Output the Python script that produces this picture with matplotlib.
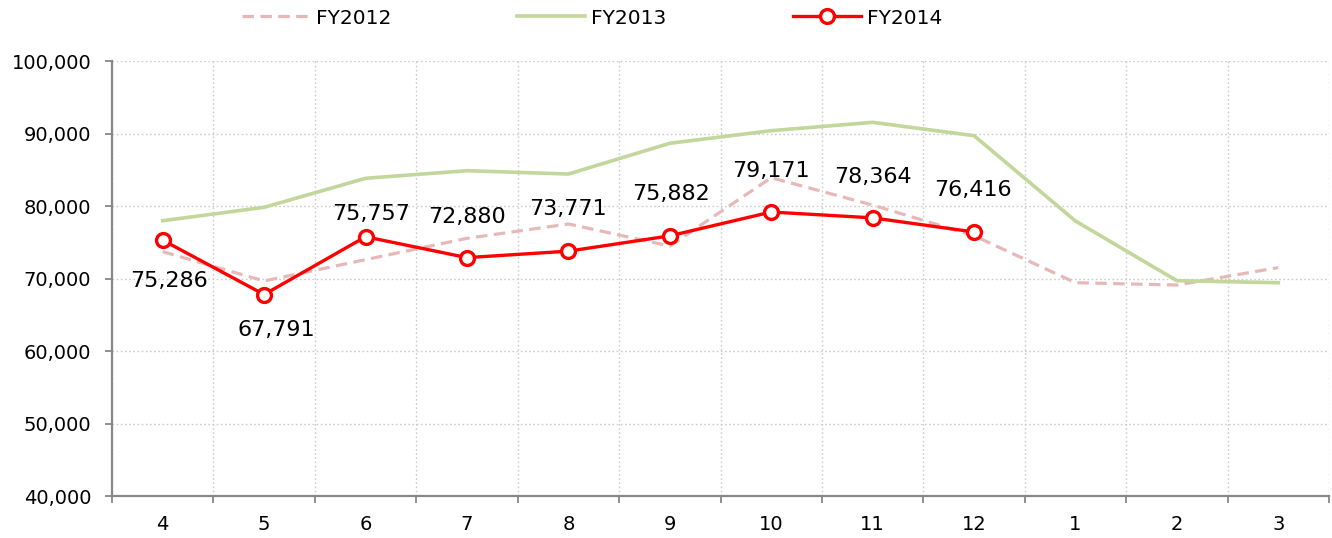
import matplotlib
matplotlib.use("Agg")
import matplotlib.pyplot as plt
from matplotlib.ticker import FuncFormatter, FixedLocator

months = ["4", "5", "6", "7", "8", "9", "10", "11", "12", "1", "2", "3"]
fy2012 = [73700, 69660, 72600, 75540, 77520, 74480, 83900, 80130, 75900, 69420, 69100, 71500]
fy2013 = [77970, 79820, 83820, 84870, 84410, 88650, 90390, 91540, 89700, 77930, 69700, 69420]
fy2014 = [75286, 67791, 75757, 72880, 73771, 75882, 79171, 78364, 76416]
# data-label offsets (points) relative to each FY2014 marker
label_offsets = [(4.7, -29.5), (8.6, -25.2), (4.3, 16.6), (0, 29), (0, 30),
                 (0.7, 30), (0, 29.5), (0, 29.5), (-1, 30)]

plt.rcParams['font.family'] = ['DejaVu Sans']

fig = plt.figure(figsize=(13.32, 5.38), dpi=100)
ax = fig.add_axes([112/1332, 1-496/538, (1329-112)/1332, (496-61)/538])

x = list(range(len(months)))
l12, = ax.plot(x, fy2012, color='#E6B9B8', lw=2.3, dashes=(3.6, 2.0),
               solid_capstyle='butt', label='FY2012', zorder=2)
l13, = ax.plot(x, fy2013, color='#C3D69B', lw=2.6, label='FY2013', zorder=3)
l14, = ax.plot(x[:len(fy2014)], fy2014, color='#FF0000', lw=2.4, marker='o',
               markersize=10, markerfacecolor='white', markeredgecolor='#FF0000',
               markeredgewidth=2.4, label='FY2014', zorder=4)

for xi, v, off in zip(x, fy2014, label_offsets):
    ax.annotate(f"{v:,}", (xi, v), xytext=off, textcoords='offset points',
                ha='center', va='center', fontsize=16, color='black', zorder=5)

ax.set_xlim(-0.5, len(months) - 0.5)
ax.set_ylim(40000, 100000)
ax.set_yticks(range(40000, 100001, 10000))
ax.yaxis.set_major_formatter(FuncFormatter(lambda v, p: f"{int(v):,}"))

ax.set_xticks(x)
ax.set_xticklabels(months)
ax.xaxis.set_minor_locator(FixedLocator([i - 0.5 for i in range(len(months) + 1)]))

ax.tick_params(axis='x', which='major', length=0, pad=14, labelsize=14, colors='black')
ax.tick_params(axis='x', which='minor', length=5, width=1.3, color='#888888', direction='out')
ax.tick_params(axis='y', which='major', length=5, width=1.3, color='#888888', pad=10,
               labelsize=14, labelcolor='black')

ax.grid(True, axis='y', which='major', color='#CCCCCC', linestyle=(0, (1.2, 1.8)), lw=1.0)
ax.grid(True, axis='x', which='minor', color='#CCCCCC', linestyle=(0, (1.2, 1.8)), lw=1.0)
ax.grid(False, axis='x', which='major')
ax.set_axisbelow(True)

for s in ['top', 'right']:
    ax.spines[s].set_visible(False)
for s in ['left', 'bottom']:
    ax.spines[s].set_color('#888888')
    ax.spines[s].set_linewidth(1.6)

fig.legend(handles=[l12, l13, l14], loc='center left', bbox_to_anchor=(242/1332, 1-18/538),
           ncol=3, frameon=False, fontsize=14.5, handlelength=3.38, handletextpad=0.3,
           columnspacing=6.25, borderpad=0, borderaxespad=0)

fig.savefig('out.png', dpi=100)
